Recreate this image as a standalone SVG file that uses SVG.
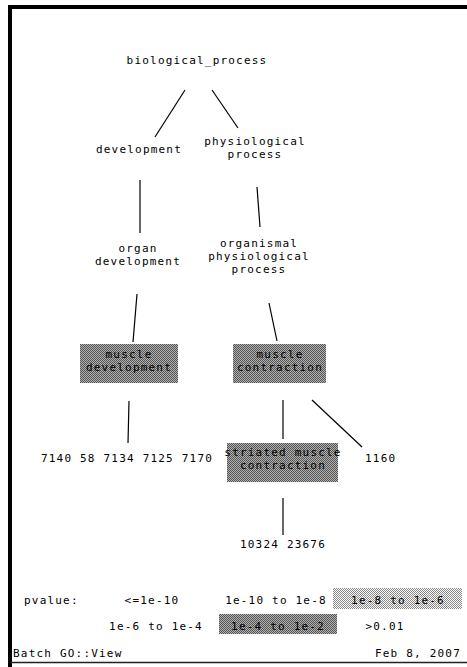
<svg xmlns="http://www.w3.org/2000/svg" width="467" height="667" viewBox="0 0 467 667">
<defs>
<pattern id="dark" width="2" height="2" patternUnits="userSpaceOnUse">
<rect width="2" height="2" fill="#b0b0b0"/>
<rect x="0" y="0" width="1" height="1" fill="#555"/>
<rect x="1" y="1" width="1" height="1" fill="#555"/>
</pattern>
<pattern id="light" width="2" height="2" patternUnits="userSpaceOnUse">
<rect width="2" height="2" fill="#ffffff"/>
<rect x="0" y="0" width="1" height="1" fill="#888"/>
<rect x="1" y="1" width="1" height="1" fill="#888"/>
</pattern>
<style>
text{font-family:"DejaVu Sans Mono","Liberation Mono",monospace;font-size:11px;letter-spacing:1.2px;fill:#000}
.c{text-anchor:middle}
.e{stroke:#000;stroke-width:1.2;fill:none}
.box{fill:url(#dark)}
</style>
</defs>
<rect width="467" height="667" fill="#fff"/>
<path d="M10,667 V7 H467" fill="none" stroke="#000" stroke-width="4"/>
<line x1="10" y1="662.5" x2="467" y2="662.5" stroke="#222" stroke-width="1.5"/>
<g id="connectors">
<line class="e" x1="185" y1="90" x2="155" y2="137"/>
<line class="e" x1="212" y1="90" x2="238" y2="128"/>
<line class="e" x1="140" y1="180" x2="140" y2="233"/>
<line class="e" x1="257" y1="187" x2="260" y2="227"/>
<line class="e" x1="137" y1="294" x2="133" y2="342"/>
<line class="e" x1="269" y1="303" x2="277" y2="341"/>
<line class="e" x1="129" y1="401" x2="128" y2="443"/>
<line class="e" x1="283" y1="400" x2="283" y2="439"/>
<line class="e" x1="312" y1="400" x2="362" y2="447"/>
<line class="e" x1="283" y1="498" x2="283" y2="535"/>
</g>
<g id="biological_process"><text class="c" x="197" y="64">biological_process</text></g>
<g id="development"><text class="c" x="139" y="153">development</text></g>
<g id="physiological_process"><text class="c" x="255" y="145">physiological</text><text class="c" x="255" y="158">process</text></g>
<g id="organ_development"><text class="c" x="138" y="252">organ</text><text class="c" x="138" y="265">development</text></g>
<g id="organismal_physiological_process"><text class="c" x="259" y="247">organismal</text><text class="c" x="259" y="260">physiological</text><text class="c" x="259" y="273">process</text></g>
<g id="muscle_development"><rect class="box" x="80" y="344" width="98" height="39"/><text class="c" x="129" y="358">muscle</text><text class="c" x="129" y="371">development</text></g>
<g id="muscle_contraction"><rect class="box" x="233" y="344" width="93" height="39"/><text class="c" x="280" y="358">muscle</text><text class="c" x="280" y="371">contraction</text></g>
<g id="genes_muscle_development"><text class="c" x="127" y="462">7140 58 7134 7125 7170</text></g>
<g id="striated_muscle_contraction"><rect class="box" x="227" y="443" width="111" height="39"/><text class="c" x="283" y="456">striated muscle</text><text class="c" x="283" y="469">contraction</text></g>
<g id="genes_1160"><text x="365" y="462">1160</text></g>
<g id="genes_striated"><text class="c" x="283" y="548">10324 23676</text></g>
<g id="legend">
<text x="24" y="604">pvalue:</text>
<text class="c" x="152" y="604">&lt;=1e-10</text>
<text class="c" x="276" y="604">1e-10 to 1e-8</text>
<rect x="333" y="588" width="129" height="21" fill="url(#light)"/>
<text class="c" x="398" y="604">1e-8 to 1e-6</text>
<text class="c" x="156" y="630">1e-6 to 1e-4</text>
<rect class="box" x="219" y="614" width="118" height="20"/>
<text class="c" x="278" y="630">1e-4 to 1e-2</text>
<text class="c" x="385" y="630">&gt;0.01</text>
</g>
<g id="footer">
<text x="13" y="657">Batch GO::View</text>
<text x="461" y="657" style="text-anchor:end">Feb 8, 2007</text>
</g>
</svg>
